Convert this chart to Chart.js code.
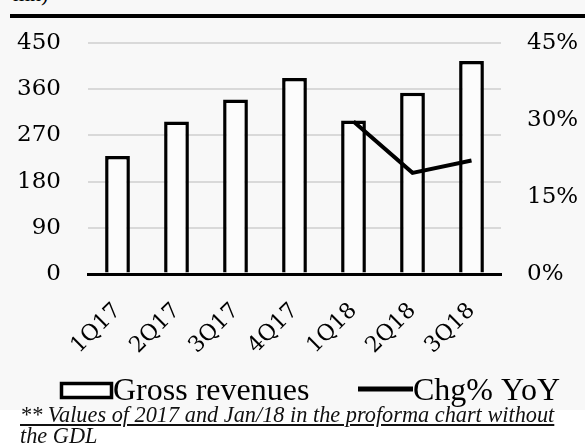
<!DOCTYPE html>
<html>
<head>
<meta charset="utf-8">
<script src="https://cdn.jsdelivr.net/npm/chart.js@4"></script>
<style>
  body { margin: 0; background: #ffffff; }
  #wrap { position: relative; width: 585px; height: 444px; overflow: hidden; background: #ffffff; }
  #panel { position: absolute; left: 0; top: 0; width: 585px; height: 410px; background: #f8f8f8; }
  #cut { position: absolute; left: 0; top: 0; width: 200px; height: 6px; overflow: hidden; }
  #cut span { position: absolute; left: 13px; top: -17px; font: 22px "Liberation Serif"; line-height: 22px; color: #000; }
  #rule { position: absolute; left: 10px; right: 0; top: 14px; height: 4px; background: #000; }
  #chart { position: absolute; left: 0; top: 0; }
  #note { position: absolute; left: 20px; top: 404px; font: italic 22.3px "Liberation Serif"; line-height: 21px; color: #111; white-space: nowrap; }
  #note .u { text-decoration: underline; }
</style>
</head>
<body>
<div id="wrap">
  <div id="panel"></div>
  <div id="cut"><span>mn)</span></div>
  <div id="rule"></div>
  <canvas id="chart" width="585" height="410"></canvas>
  <div id="note"><span class="u">** Values of 2017 and Jan/18 in the proforma chart without</span><br>the GDL</div>
</div>
<script>
let quarters = ["1Q17", "2Q17", "3Q17", "4Q17", "1Q18", "2Q18", "3Q18"];
let grossRevenues = [230, 297, 340, 382, 299, 353, 415];
let chgYoY = [null, null, null, null, 29.7, 19.7, 22.1];

let revTicks = [0, 90, 180, 270, 360, 450];
let pctTicks = [0, 15, 30, 45];

let tickFont = { family: "DejaVu Serif", size: 23 };

// legend drawn by hand so box and line sit like in the original
const bottomLegend = {
    id: "bottomLegend",
    afterDraw(chart) {
        let ctx = chart.ctx;
        let ds = chart.data.datasets;
        ctx.save();
        ctx.strokeStyle = "#000";
        ctx.fillStyle = "#ffffff";
        ctx.lineWidth = 3.5;
        ctx.fillRect(61.5, 383.5, 50, 14);
        ctx.strokeRect(61.5, 383.5, 50, 14);

        ctx.lineWidth = 5;
        ctx.beginPath();
        ctx.moveTo(358, 389);
        ctx.lineTo(413, 389);
        ctx.stroke();

        ctx.fillStyle = "#000";
        ctx.font = '32px "Liberation Serif"';
        ctx.textBaseline = "alphabetic";
        ctx.fillText(ds[0].label, 113, 400);
        ctx.fillText(ds[1].label, 413, 400);
        ctx.restore();
    }
};

let ctx = document.getElementById("chart").getContext("2d");

let chart = new Chart(ctx, {
    type: "bar",
    data: {
        labels: quarters,
        datasets: [
            {
                type: "bar",
                label: "Gross revenues",
                data: grossRevenues,
                yAxisID: "y",
                backgroundColor: "#fcfcfc",
                borderColor: "#000",
                borderWidth: 3.5,
                barPercentage: 0.42,
                categoryPercentage: 1,
                order: 2
            },
            {
                type: "line",
                label: "Chg% YoY",
                data: chgYoY,
                yAxisID: "y1",
                borderColor: "#000",
                borderWidth: 4,
                pointRadius: 0,
                fill: false,
                tension: 0,
                order: 1
            }
        ]
    },
    options: {
        responsive: false,
        animation: false,
        layout: { padding: { top: 43, bottom: 36, left: 0, right: 0 } },
        plugins: {
            legend: { display: false },
            tooltip: { enabled: false }
        },
        scales: {
            x: {
                grid: { display: false, drawTicks: false },
                border: { display: true, color: "#000", width: 3 },
                ticks: {
                    color: "#000",
                    font: { family: "DejaVu Serif", size: 22 },
                    minRotation: 45,
                    maxRotation: 45,
                    padding: 24
                },
                afterFit: s => { s.height = 100; }
            },
            y: {
                position: "left",
                min: 0,
                max: 450,
                grid: {
                    drawTicks: false,
                    color: c => c.tick.value === 0 ? "#000" : "#d9d9d9",
                    lineWidth: c => c.tick.value === 0 ? 3 : 2
                },
                border: { display: false },
                ticks: { color: "#000", font: tickFont, padding: 27 },
                afterBuildTicks: s => { s.ticks = revTicks.map(v => ({ value: v })); },
                afterFit: s => { s.width = 88; }
            },
            y1: {
                position: "right",
                min: 0,
                max: 45,
                grid: { display: false, drawTicks: false },
                border: { display: false },
                ticks: {
                    color: "#000",
                    font: tickFont,
                    padding: 26,
                    callback: v => v + "%"
                },
                afterBuildTicks: s => { s.ticks = pctTicks.map(v => ({ value: v })); },
                afterFit: s => { s.width = 84; }
            }
        }
    },
    plugins: [bottomLegend]
});
</script>
</body>
</html>
